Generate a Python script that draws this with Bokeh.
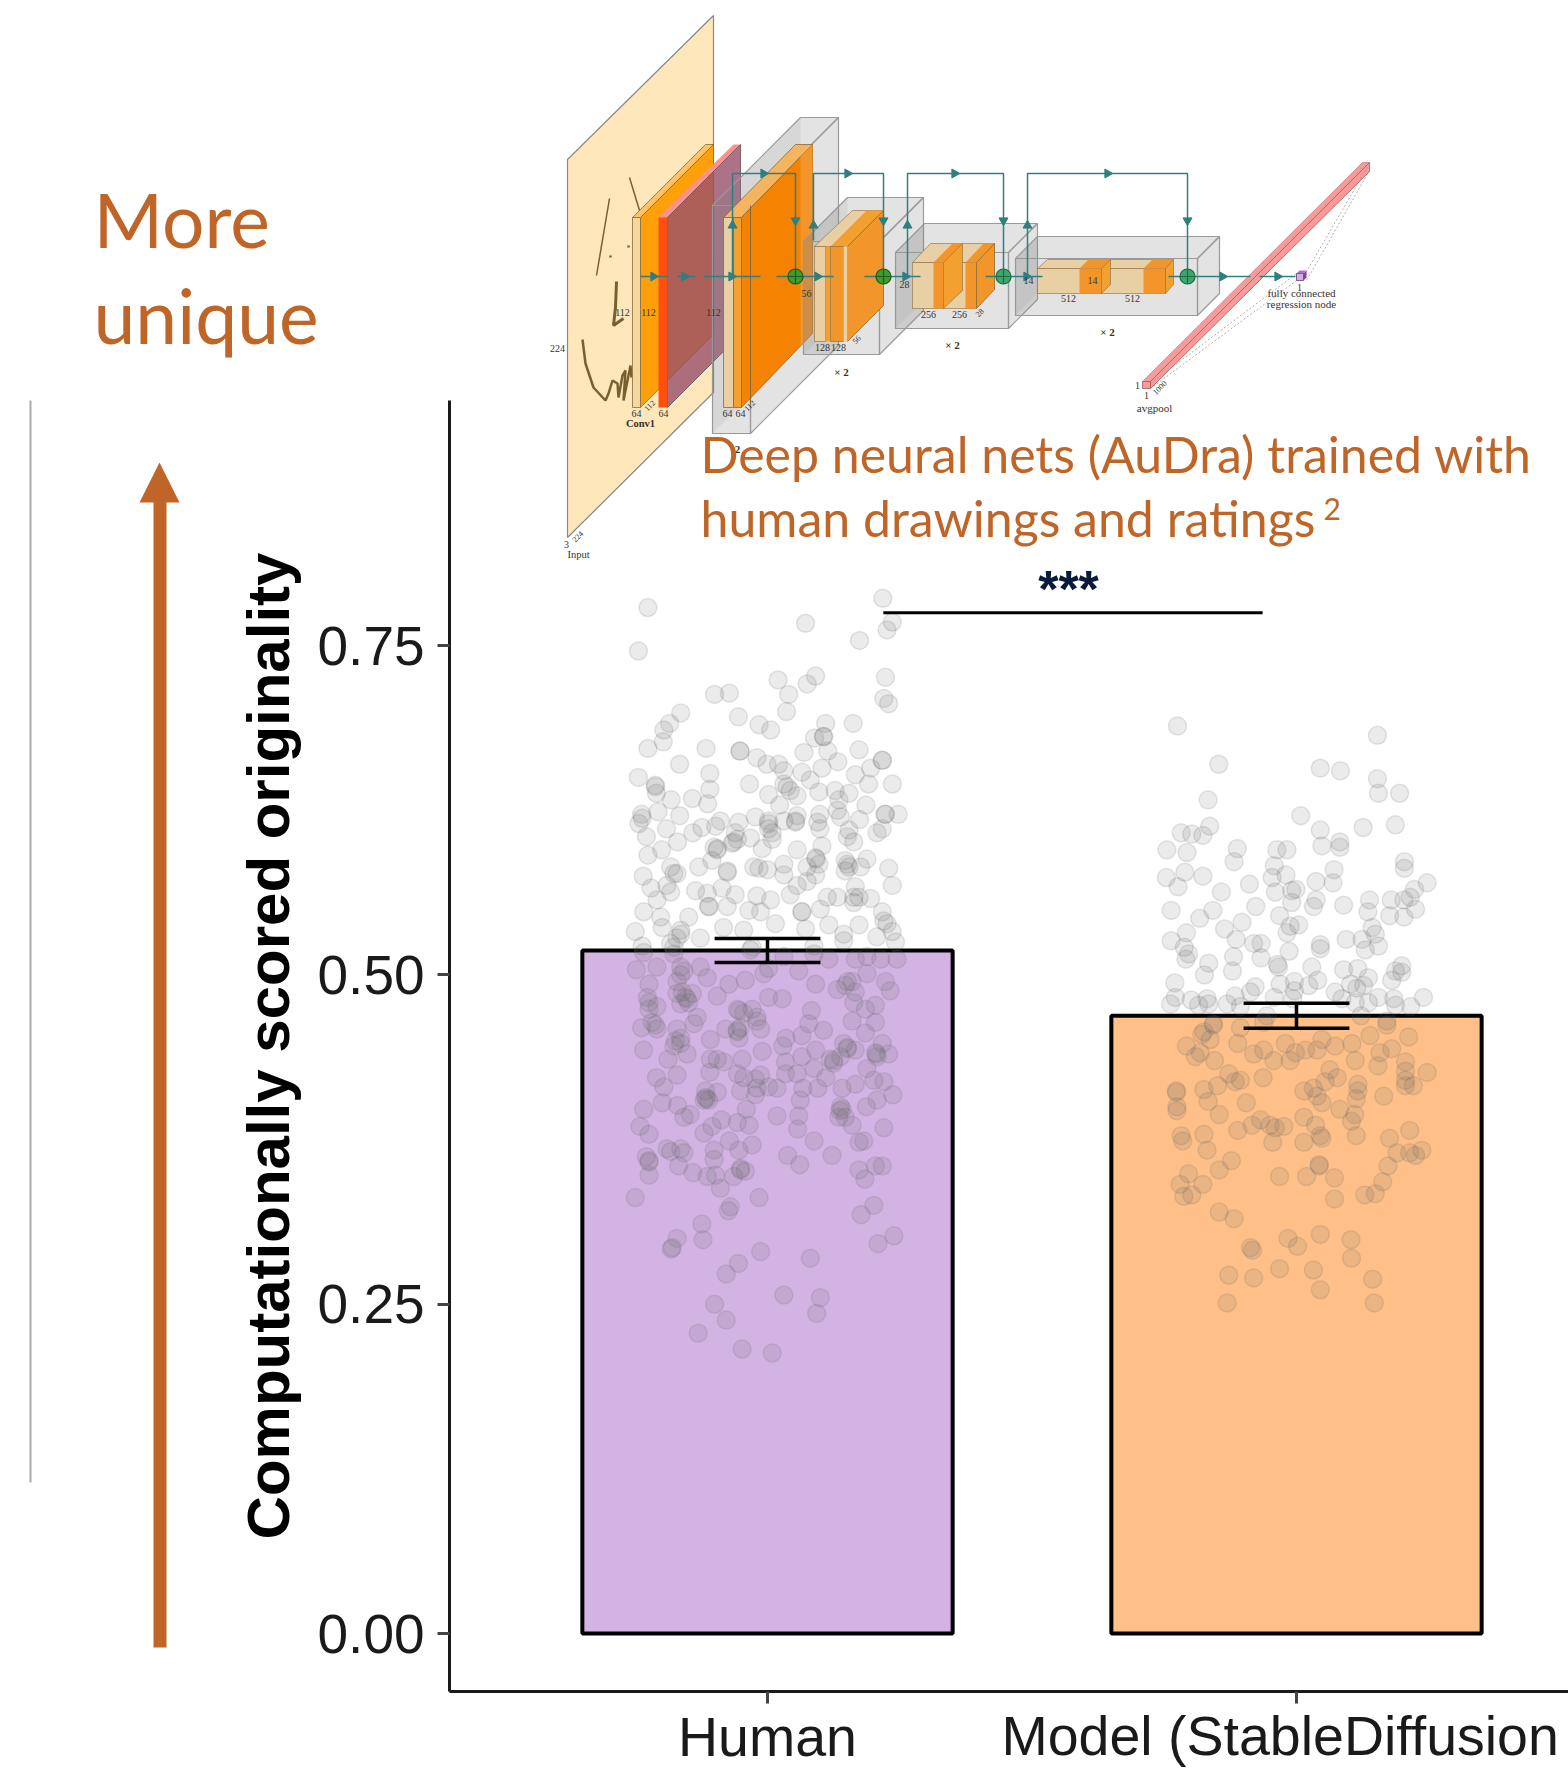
from bokeh.plotting import figure
from bokeh.models import Range1d, LinearAxis, FixedTicker
from bokeh.core.properties import value
from bokeh.embed import file_html
from bokeh.resources import INLINE

# ---------- chart data ----------
categories = ["Human", "Model (StableDiffusion"]
cat_pos = [1, 2]
means = [0.5186, 0.469]
err_low = [0.5095, 0.4595]
err_high = [0.5277, 0.4785]
y_ticks = [0.0, 0.25, 0.5, 0.75]
bar_colors = ["#D3B3E3", "#FEC088"]
sig_x = [1.219, 1.936]
sig_y = [0.775, 0.775]

human_points = [
(.774,.779),(.756,.746),(1.218,.786),(1.072,.767),(1.236,.768),(1.226,.762),(1.174,.754),(1.020,.724),(1.091,.727),(1.075,.721),
(1.040,.713),(1.223,.726),(.900,.713),(.928,.714),(1.220,.710),(1.229,.706),(1.036,.700),(.836,.699),(.815,.691),(.804,.686),
(.803,.677),(.945,.696),(.984,.690),(1.006,.686),(1.110,.691),(1.162,.691),(1.089,.680),(1.106,.681),(.774,.672),(.884,.672),
(.948,.670),(1.069,.669),(1.114,.670),(1.173,.671),(.834,.660),(.980,.665),(.999,.660),(1.021,.660),(1.031,.655),(1.133,.662),
(1.103,.657),(1.217,.663),(1.195,.657),(.756,.650),(.891,.653),(1.065,.654),(1.081,.648),(1.166,.652),(.966,.645),(.788,.644),
(.790,.638),(.891,.641),(1.236,.645),(1.191,.645),(1.002,.637),(1.037,.643),(1.056,.636),(1.097,.639),(1.128,.640),(1.154,.638),
(1.135,.633),(.818,.633),(.858,.634),(.887,.630),(1.023,.629),(1.186,.629),(.762,.622),(.763,.619),(.793,.624),(.834,.621),
(.757,.615),(.977,.620),(1.002,.617),(1.053,.617),(1.056,.621),(1.099,.622),(1.132,.625),(1.222,.622),(1.247,.622),(1.174,.618),
(1.138,.620),(.911,.617),(.902,.613),(.946,.616),(.876,.612),(.809,.611),(.859,.608),(1.002,.611),(1.031,.617),(1.095,.616),
(1.099,.611),(.771,.605),(.830,.601),(.939,.608),(.936,.601),(.968,.604),(1.009,.603),(1.207,.608),(1.217,.611),(1.154,.610),
(1.151,.605),(1.163,.601),(.905,.596),(.990,.596),(1.056,.595),(1.103,.598),(.800,.595),(.774,.591),(.895,.587),(1.092,.588),
(1.188,.588),(1.176,.582),(1.151,.584),(1.147,.579),(.817,.582),(.829,.577),(.870,.582),(.924,.579),(.974,.582),(.984,.581),
(1.000,.580),(1.031,.584),(1.031,.576),(1.075,.582),(1.229,.581),(.765,.575),(1.236,.568),(1.091,.576),(1.075,.571),(1.056,.568),
(.810,.568),(.780,.566),(.914,.566),(1.166,.567),(.817,.563),(.864,.564),(.886,.562),(.939,.561),(.980,.560),(1.006,.557),
(1.043,.561),(1.113,.559),(1.132,.559),(1.163,.559),(1.195,.558),(.791,.557),(.889,.552),(.924,.552),(.965,.549),(.987,.548),
(1.065,.548),(1.100,.550),(1.217,.548),(.766,.548),(.851,.544),(.798,.544),(1.015,.539),(1.220,.541),(.917,.536),(.955,.534),
(1.072,.535),(1.116,.538),(1.173,.538),(1.226,.539),(.750,.533),(.836,.534),(.801,.536),(1.144,.531),(.829,.528),(.873,.528),
(1.207,.529),(1.236,.533),(1.242,.525),(.763,.522),(.817,.524),(.971,.521),(1.088,.522),(1.144,.526),(.766,.517),(.823,.516),
(.968,.519),(1.031,.514),(1.088,.516),(1.116,.512),(1.166,.512),(1.188,.514),(1.214,.512),(1.245,.512),
(.752,.504),(.791,.506),(.836,.506),(.873,.506),(.776,.493),(.836,.500),(.886,.498),(.927,.493),(.958,.496),(.993,.501),
(1.059,.503),(1.091,.493),(1.132,.489),(1.151,.495),(1.166,.487),(1.188,.501),(1.223,.495),(1.232,.488),(.773,.483),(.829,.486),
(.848,.482),(.858,.486),(.905,.484),(1.002,.483),(1.028,.482),(1.083,.473),(1.163,.479),(1.204,.477),(1.185,.474),(.776,.474),
(.791,.476),(.836,.478),(.943,.474),(.971,.474),(.867,.468),(.955,.471),(.980,.465),(.762,.460),(.788,.462),(.791,.459),
(.861,.463),(.943,.457),(.946,.452),(.921,.459),(.987,.459),(1.078,.463),(1.106,.458),(1.160,.465),(1.204,.464),(1.185,.456),
(.829,.459),(.892,.451),(.836,.448),(.823,.446),(.848,.440),(.812,.436),(.766,.443),(1.035,.452),(1.029,.446),(1.065,.454),
(1.065,.438),(.990,.442),(1.091,.443),(1.144,.448),(1.151,.444),(1.166,.443),(1.125,.435),(1.138,.438),(1.217,.448),(1.206,.440),
(1.229,.440),(.892,.436),(.917,.434),(.905,.436),(.952,.436),(1.034,.434),(1.188,.429),(1.088,.429),(.891,.426),(.943,.425),
(.955,.422),(.977,.421),(.987,.424),(1.034,.425),(1.056,.425),(1.110,.422),(.829,.424),(.790,.422),(.804,.415),(.949,.412),
(.980,.414),(.977,.409),(1.018,.414),(1.002,.415),(1.067,.414),(1.095,.414),(1.141,.414),(1.166,.417),(1.220,.419),(1.201,.420),
(.885,.406),(.880,.405),(.905,.411),(.883,.412),(.801,.403),(.830,.401),(1.062,.405),(1.237,.409),(1.207,.405),(1.187,.400),
(.766,.398),(.854,.394),(.842,.392),(.960,.398),(1.137,.397),(1.141,.398),(1.135,.392),(1.018,.393),(1.059,.393),(.913,.390),
(.943,.388),(.895,.385),(.965,.386),(1.160,.386),(.759,.385),(.776,.379),(.880,.380),(1.057,.383),(1.220,.384),(.928,.374),
(.810,.368),(.817,.366),(.836,.368),(.842,.365),(.899,.367),(.971,.371),(.946,.367),(1.088,.374),(1.173,.373),(1.182,.374),
(.771,.362),(.776,.358),(.899,.360),(1.038,.363),(1.122,.363),(.832,.355),(.776,.348),(.859,.350),(.886,.347),(.902,.348),
(.949,.353),(.936,.347),(.958,.351),(1.061,.356),(1.173,.352),(1.204,.355),(1.217,.355),(1.184,.345),(.911,.338),(.750,.331),
(.984,.331),(.930,.324),(.926,.321),(1.201,.325),(1.177,.318),(.876,.311),(.878,.299),(.829,.300),(.818,.292),(.820,.293),
(1.239,.302),(1.209,.296),(.987,.290),(1.081,.285),(.945,.281),(.922,.273),(1.031,.257),(1.100,.255),(1.093,.243),(.900,.250),
(.922,.238),(.869,.228),(.952,.216),(1.009,.213),
(.845,.483),(.839,.487),(.851,.479),(.829,.495),(.842,.503),(.826,.450),(.836,.452),(.782,.464),(.776,.479),(.943,.458),
(.949,.460),(.946,.473),(.980,.468),(.883,.407),(.889,.405),(1.204,.441),(1.207,.438),(1.138,.400),(1.147,.392),(1.151,.445),
(1.125,.433),(1.119,.436),(1.160,.495),(1.147,.492),(.949,.352),(.776,.359),(1.002,.505),
(.943,.603),(.933,.600),(1.053,.616),(.905,.595),(.899,.597),(1.154,.582),(1.147,.587),(.924,.578),(1.065,.548),(.889,.552),
(1.002,.615),(1.009,.608),(1.043,.640),(1.031,.645),(1.217,.663),(1.106,.681),(.823,.577),(1.223,.622),(.948,.670),(.788,.643),
(.836,.531),(.823,.521),(1.173,.559),(1.163,.555),(1.091,.589),(1.097,.584),
]

model_points = [
(1.775,.689),(2.153,.682),(1.853,.660),(2.045,.657),(2.083,.655),(2.153,.649),(2.155,.638),(2.195,.638),(1.833,.633),(2.008,.621),
(1.836,.613),(1.782,.608),(1.802,.607),(1.823,.606),(2.045,.610),(2.126,.612),(2.187,.614),(1.755,.595),(1.793,.593),(1.888,.596),
(1.882,.586),(1.963,.595),(1.982,.595),(2.048,.598),(2.082,.601),(2.082,.597),(2.204,.586),(2.204,.581),(1.958,.583),(1.754,.574),
(1.789,.578),(1.823,.575),(1.776,.567),(1.980,.576),(1.954,.574),(1.960,.563),(1.991,.564),(1.999,.565),(2.071,.580),(2.069,.570),
(2.037,.571),(1.911,.569),(1.858,.563),(2.247,.570),(2.223,.565),(2.037,.557),(2.032,.552),(1.991,.555),(1.923,.552),(2.089,.553),
(2.138,.557),(2.135,.548),(2.179,.557),(2.176,.545),(2.203,.557),(2.215,.559),(2.225,.550),(2.203,.544),(1.763,.549),(1.842,.549),
(1.817,.543),(1.968,.545),(2.004,.538),(1.988,.537),(1.982,.532),(1.897,.540),(1.864,.535),(1.792,.532),(1.763,.526),(1.886,.527),
(1.919,.524),(1.933,.524),(2.094,.527),(2.124,.527),(2.143,.536),(2.149,.531),(2.155,.522),(2.130,.519),(2.045,.523),(2.045,.520),
(1.788,.521),(1.791,.512),(1.796,.516),(1.881,.514),(1.986,.518),(1.933,.513),(1.964,.508),(1.966,.506),(1.834,.509),(1.826,.500),
(1.879,.503),(2.029,.506),(2.040,.496),(2.089,.504),(2.116,.505),(2.187,.503),(2.199,.507),(2.199,.502),(2.136,.498),(2.180,.496),
(1.770,.494),(1.771,.483),(1.762,.478),(1.801,.481),(1.831,.482),(1.922,.491),(1.913,.487),(1.969,.493),(1.996,.495),(1.996,.488),
(2.023,.492),(1.958,.483),(1.993,.482),(2.073,.487),(2.102,.493),(2.114,.490),(2.127,.492),(2.086,.482),(2.155,.483),(2.184,.482),
(2.240,.483),(2.216,.476),(1.834,.478),(1.815,.477),(1.869,.478),(1.884,.484),(1.894,.476),(2.111,.479),(2.136,.479),(2.187,.477),
(1.944,.469),(2.122,.469),(2.171,.465),(1.843,.463),(1.938,.464),(1.825,.457),
(1.843,.462),(1.894,.460),(2.171,.462),(1.821,.455),(1.837,.451),(1.792,.446),(1.889,.448),(1.938,.443),(1.919,.440),(1.979,.448),
(1.998,.441),(2.017,.443),(2.039,.443),(2.048,.451),(2.073,.446),(2.105,.448),(2.139,.454),(2.158,.441),(2.180,.444),(2.212,.453),
(1.818,.441),(1.809,.438),(1.845,.435),(1.957,.435),(1.988,.435),(2.111,.435),(2.154,.431),(2.206,.434),(1.872,.425),(2.206,.427),
(2.247,.426),(1.937,.422),(2.063,.428),(2.077,.422),(2.054,.419),(1.894,.420),(1.884,.419),(1.851,.416),(1.825,.413),(2.206,.420),
(2.206,.416),(2.221,.416),(1.773,.412),(1.773,.411),(2.014,.412),(2.032,.414),(2.039,.408),(2.116,.417),(2.116,.412),(2.113,.406),
(2.165,.408),(1.833,.404),(2.048,.403),(1.905,.403),(1.774,.400),(1.774,.397),(2.082,.398),(1.854,.394),(2.014,.392),(2.110,.394),
(2.104,.389),(1.932,.390),(1.916,.386),(1.889,.382),(1.950,.386),(1.960,.384),(1.976,.385),(2.036,.386),(2.045,.378),(2.048,.376),
(2.113,.378),(2.214,.382),(1.782,.378),(1.785,.374),(1.825,.379),(1.831,.367),(1.955,.373),(2.014,.373),(2.176,.376),(2.190,.365),
(2.214,.365),(2.225,.363),(2.237,.367),(1.877,.359),(1.854,.352),(2.173,.355),(2.043,.356),(2.043,.355),(1.796,.349),(1.780,.341),
(1.823,.341),(1.968,.347),(2.019,.347),(2.072,.346),(2.163,.343),(1.787,.332),(1.802,.333),(2.072,.330),(2.129,.333),(2.149,.334),
(1.854,.320),(1.882,.315),(1.984,.300),(2.002,.294),(2.045,.303),(2.103,.299),(2.104,.285),(1.913,.293),(1.917,.291),(1.968,.277),
(2.032,.276),(1.872,.272),(1.919,.270),(2.144,.269),(2.045,.261),(1.869,.251),(2.147,.251),
]

# ---------- figure: the frame fills the page ----------
PAGE_W, PAGE_H = 1568, 1770
p = figure(width=PAGE_W, height=PAGE_H, output_backend="svg", toolbar_location=None,
           x_range=Range1d(-0.4499, 2.5142), y_range=Range1d(-0.1040, 1.2399),
           x_axis_type=None, y_axis_type=None, min_border=0, outline_line_color=None,
           background_fill_color="white", border_fill_color="white")
p.grid.visible = False
p.extra_x_ranges["page"] = Range1d(0, 1568)
p.extra_y_ranges["page"] = Range1d(1770, 0)
PG = dict(x_range_name="page", y_range_name="page")

def poly(pts, fill, alpha=1.0, line=None, lw=1.0, line_alpha=1.0):
    p.patch([a for a, _ in pts], [b for _, b in pts], fill_color=fill, fill_alpha=alpha,
            line_color=line, line_width=lw, line_alpha=line_alpha, **PG)

def path(pts, color="#2F7F7F", lw=1.5, dash="solid", alpha=1.0):
    p.line([a for a, _ in pts], [b for _, b in pts], line_color=color, line_width=lw,
           line_dash=dash, line_alpha=alpha, **PG)

def rect(x0, y0, x1, y1, fill, alpha=1.0, line=None, lw=1.0):
    poly([(x0, y0), (x1, y0), (x1, y1), (x0, y1)], fill, alpha, line, lw)

def label(x, y, s, size=10, bold=False, angle=0.0, color="#333333"):
    p.text([x], [y], text=[s], text_font=value("Liberation Serif"), text_font_size=f"{size}px",
           text_font_style="bold" if bold else "normal", text_color=color, text_align="center",
           text_baseline="middle", angle=angle, **PG)

def gbox(x0, y0, x1, y1, d):
    # transparent grey cuboid, drawn behind its layers
    rect(x0, y0, x1, y1, "#808080", .22, "#9a9a9a", 1.2)
    poly([(x1, y0), (x1 + d, y0 - d), (x1 + d, y1 - d), (x1, y1)], "#808080", .22, "#9a9a9a", 1.2)
    poly([(x0, y0), (x0 + d, y0 - d), (x1 + d, y0 - d), (x1, y0)], "#808080", .22, "#9a9a9a", 1.2)
    poly([(x0, y0), (x0 + d, y0 - d), (x0 + d, y1 - d), (x0, y1)], "#808080", .12)

# ---------- network diagram ----------
TAN, OR1, OR2, OR3 = "#E9D0A4", "#F2952B", "#F58200", "#F2A030"
EDGE = "#8a6a3a"
poly([(567, 159), (713, 15), (713, 392), (567, 537)], "#FEE7BB", 1, "#888888", 1.2)
# sketch on the input plane
for stroke, w in [([(629, 177), (639, 210), (643, 227)], 1.5), ([(609, 198), (596, 275)], 1.5),
                  ([(610, 255), (610, 257)], 2.5), ([(628, 245), (628, 247)], 2.5),
                  ([(616, 281), (615, 307), (613, 325), (623, 318)], 3),
                  ([(582, 339), (585, 363), (593, 387), (605, 400), (608, 393), (612, 380), (617, 383), (618, 397),
                    (622, 375), (625, 370), (623, 400), (630, 365), (631, 377)], 2.5)]:
    path(stroke, "#7A6030", w)
# conv1
poly([(632, 217), (640, 217), (713, 144), (705, 144)], "#FFC266", 1, EDGE, .8)
poly([(640, 217), (713, 144), (713, 334), (640, 407)], "#FF9F0A", 1, EDGE, .8)
rect(632, 217, 640, 407, "#F5D8A0", 1, EDGE, .8)
# max-pool
poly([(658, 217), (667, 217), (740, 144), (733, 144)], "#FF9090", 1)
poly([(667, 217), (740, 144), (740, 334), (667, 407)], "#97506A", .8, "#6a4a50", .8)
rect(658, 217, 667, 407, "#FF5010", 1)
# stage 1
gbox(712, 205, 750, 433, 88)
poly([(723, 217), (741, 217), (812, 144), (795, 144)], "#F4B560", 1, EDGE, .8)
poly([(741, 217), (812, 144), (812, 333), (741, 407)], OR2, 1, EDGE, .8)
poly([(800, 156), (812, 144), (812, 333), (800, 345)], OR1, 1)
rect(723, 217, 733, 407, TAN, 1, EDGE, .8)
rect(733, 217, 741, 407, OR3, 1, EDGE, .8)
path([(750, 205), (750, 407)], EDGE, 1)
# stage 2
gbox(803, 241, 879, 354, 44)
poly([(814, 246), (852, 210), (883, 210), (847, 246)], TAN, 1, EDGE, .6)
poly([(830, 246), (866, 210), (883, 210), (847, 246)], OR3, 1)
poly([(847, 246), (883, 210), (883, 305), (847, 341)], OR1, 1, EDGE, .8)
rect(814, 246, 825, 341, TAN, 1, EDGE, .6)
rect(825, 246, 830, 341, OR3, 1)
rect(830, 246, 843, 341, OR1, 1, EDGE, .6)
rect(843, 246, 847, 341, TAN, 1)
# stage 3
gbox(895, 252, 1008, 328, 29)
poly([(912, 262), (930, 243), (994, 243), (976, 262)], TAN, 1, EDGE, .6)
poly([(933, 262), (952, 243), (962, 243), (943, 262)], OR1, 1)
poly([(965, 262), (983, 243), (994, 243), (976, 262)], OR1, 1)
rect(912, 262, 976, 308, TAN, 1, EDGE, .6)
rect(933, 262, 943, 308, OR1, 1)
rect(965, 262, 976, 308, OR1, 1)
poly([(943, 262), (962, 243), (962, 290), (943, 308)], OR3, 1, EDGE, .6)
poly([(976, 262), (994, 243), (994, 289), (976, 308)], OR1, 1, EDGE, .8)
# stage 4
gbox(1015, 258, 1197, 315, 22)
poly([(1037, 268), (1047, 259), (1173, 259), (1165, 268)], TAN, 1, EDGE, .6)
poly([(1079, 268), (1088, 259), (1110, 259), (1101, 268)], OR1, 1)
poly([(1143, 268), (1152, 259), (1173, 259), (1165, 268)], OR1, 1)
rect(1037, 268, 1165, 293, TAN, 1, EDGE, .6)
rect(1079, 268, 1101, 293, OR1, 1)
rect(1143, 268, 1165, 293, OR1, 1)
poly([(1101, 268), (1110, 259), (1110, 284), (1101, 293)], OR3, 1, EDGE, .6)
poly([(1165, 268), (1173, 259), (1173, 284), (1165, 293)], OR3, 1, EDGE, .6)
# average-pool bar and output node
poly([(1142, 381), (1150, 381), (1369, 162), (1362, 162)], "#F79A9A", 1, "#c07070", .6)
poly([(1150, 381), (1369, 162), (1369, 171), (1150, 388)], "#F79A9A", 1, "#a05a5a", .8)
rect(1142, 381, 1150, 388, "#F79A9A", 1, "#a05a5a", .8)
for seg in [[(1369, 163), (1306, 271)], [(1369, 170), (1306, 280)], [(1150, 388), (1296, 280)], [(1150, 383), (1296, 273)]]:
    path(seg, "#999999", .8, "2 2")
poly([(1303, 273), (1306, 270), (1306, 277), (1303, 280)], "#8A3FA8", 1)
poly([(1296, 273), (1299, 270), (1306, 270), (1303, 273)], "#B070D0", 1)
rect(1296, 273, 1303, 280, "#D0B0E4", 1, "#6a3a80", .8)
# flow lines
for seg in [[(640, 276), (668, 276)], [(677, 276), (695, 276)], [(703, 276), (760, 276)], [(776, 276), (833, 276)],
            [(864, 276), (920, 276)], [(985, 276), (1042, 276)], [(1168, 276), (1227, 276)], [(1259, 276), (1295, 276)],
            [(1227, 276), (1250, 276)],
            [(732, 276), (732, 173), (795, 173), (795, 276)], [(813, 240), (813, 173), (883, 173), (883, 276)],
            [(907, 276), (907, 173), (1003, 173), (1003, 276)], [(1027, 276), (1027, 173), (1187, 173), (1187, 276)]]:
    path(seg)
arrow_right = [(653, 276), (684, 276), (731, 276), (817, 276), (905, 276), (1026, 276), (1222, 276), (1277, 276),
               (763, 173), (847, 173), (954, 173), (1107, 173)]
p.scatter([a for a, _ in arrow_right], [b for _, b in arrow_right], marker="triangle", size=9, angle=-1.5708,
          fill_color="#2F7F7F", line_color="#2F7F7F", **PG)
arrow_up = [(732, 225), (813, 225), (907, 225), (1027, 225)]
p.scatter([a for a, _ in arrow_up], [b for _, b in arrow_up], marker="triangle", size=9,
          fill_color="#2F7F7F", line_color="#2F7F7F", **PG)
arrow_down = [(795, 220), (883, 220), (1003, 220), (1187, 220)]
p.scatter([a for a, _ in arrow_down], [b for _, b in arrow_down], marker="inverted_triangle", size=9,
          fill_color="#2F7F7F", line_color="#2F7F7F", **PG)
p.scatter([795, 883], [276, 276], marker="circle_cross", size=15, fill_color="#3E9B2E", line_color="#1f5a1f", line_width=1.2, **PG)
p.scatter([1003, 1187], [276, 276], marker="circle_cross", size=15, fill_color="#3DA66B", line_color="#1f6a3f", line_width=1.2, **PG)
# diagram labels
for x, y, s in [(557, 348, "224"), (622, 312, "112"), (648, 312, "112"), (713, 312, "112"), (636, 413, "64"), (663, 413, "64"),
                (727, 413, "64"), (740, 413, "64"), (806, 293, "56"), (822, 347, "128"), (838, 347, "128"), (904, 284, "28"),
                (928, 314, "256"), (959, 314, "256"), (1028, 280, "14"), (1092, 280, "14"), (1068, 298, "512"), (1132, 298, "512"),
                (1137, 385, "1"), (1146, 395, "1"), (1299, 287, "1"), (566, 544, "3")]:
    label(x, y, s, 10)
for x, y, s in [(649, 405, "112"), (749, 405, "112"), (856, 339, "56"), (979, 312, "28"), (1159, 387, "1000"), (577, 536, "224")]:
    label(x, y, s, 8, angle=0.785)
for x, y, s in [(841, 371, "× 2"), (952, 344, "× 2"), (1107, 331, "× 2")]:
    label(x, y, s, 11, bold=True)
label(737, 449, "2", 11, bold=True)
label(640, 423, "Conv1", 10.5, bold=True)
label(578, 554, "Input", 10.5)
label(1154, 407, "avgpool", 11)
label(1301, 292, "fully connected", 11)
label(1301, 303, "regression node", 11)

# ---------- bars, points, error bars ----------
p.vbar(x=cat_pos, top=means, bottom=0, width=0.70, fill_color=bar_colors, line_color="black", line_width=4)
for pts in (human_points, model_points):
    p.scatter([a for a, _ in pts], [b for _, b in pts], size=18, fill_color="#666666", fill_alpha=.13,
              line_color="#666666", line_alpha=.16, line_width=1.5)
p.segment(cat_pos, err_low, cat_pos, err_high, line_color="black", line_width=3.5)
p.segment([c - .1 for c in cat_pos], err_low, [c + .1 for c in cat_pos], err_low, line_color="black", line_width=3.5)
p.segment([c - .1 for c in cat_pos], err_high, [c + .1 for c in cat_pos], err_high, line_color="black", line_width=3.5)
p.line(sig_x, sig_y, line_color="black", line_width=3)
p.text([1068], [588], text=["***"], text_font=value("Liberation Sans"), text_font_size="52px", text_font_style="bold",
       text_color="#0B1A3C", text_align="center", text_baseline="alphabetic", **PG)

# ---------- left annotations ----------
ORANGE = "#BE6527"
path([(30, 400), (30, 1482)], "#AAAAAA", 2)
poly([(153, 1647), (153, 502), (139, 502), (159, 462), (179, 502), (166, 502), (166, 1647)], ORANGE)
for x, y, s, size in [(93, 247, "More", 75), (93, 343, "unique", 75),
                      (700, 472, "Deep neural nets (AuDra) trained with", 50),
                      (700, 536, "human drawings and ratings", 50), (1323, 520, "2", 30)]:
    p.text([x], [y - .38 * size], text=[s], text_font=value("Lato"), text_font_size=f"{size}px", text_color=ORANGE,
           text_align="left", text_baseline="alphabetic", **PG)

# ---------- axes ----------
yaxis = LinearAxis(fixed_location=0.399, ticker=FixedTicker(ticks=y_ticks), bounds=(-0.044, 0.936),
                   axis_label="Computationally scored originality", axis_label_standoff=12,
                   axis_label_text_font="Liberation Sans", axis_label_text_font_style="bold",
                   axis_label_text_font_size="60px", axis_label_text_color="black")
yaxis.formatter.use_scientific = False
yaxis.major_label_overrides = {t: f"{t:.2f}" for t in y_ticks}
xaxis = LinearAxis(fixed_location=-0.044, ticker=FixedTicker(ticks=cat_pos), bounds=(0.399, 2.6),
                   major_label_overrides={1: categories[0], 2: " "})
for ax in (xaxis, yaxis):
    ax.axis_line_color = "#1a1a1a"
    ax.axis_line_width = 3
    ax.major_tick_line_color = "#444444"
    ax.major_tick_line_width = 3
    ax.major_tick_in = 0
    ax.major_tick_out = 12
    ax.minor_tick_line_color = None
    ax.major_label_text_font = "Liberation Sans"
    ax.major_label_text_color = "#1a1a1a"
xaxis.major_label_text_font_size = "55.5px"
xaxis.major_label_standoff = 3
yaxis.major_label_text_font_size = "55px"
yaxis.major_label_standoff = 13
p.add_layout(yaxis, "left")
p.add_layout(xaxis, "below")
# second category label sits off-centre in the reference, running into the right edge
p.text([1001], [1757 - .38 * 55.5], text=[categories[1]], text_font=value("Liberation Sans"), text_font_size="55.5px",
       text_color="#1a1a1a", text_align="left", text_baseline="alphabetic", **PG)

open("out.html", "w").write(file_html(p, INLINE))
